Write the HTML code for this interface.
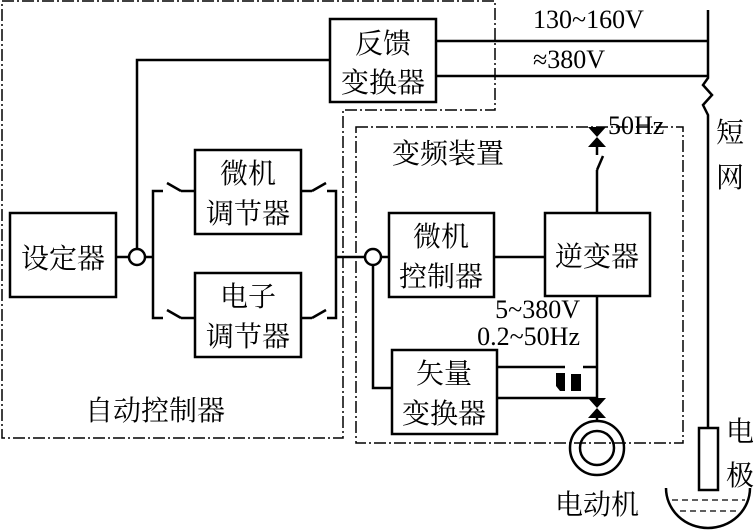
<!DOCTYPE html>
<html><head><meta charset="utf-8"><style>
html,body{margin:0;padding:0;background:#fff;}
svg{display:block}
text{font-family:"Liberation Serif","Noto Serif CJK SC","Noto Sans CJK SC",serif;fill:#000;}
</style></head><body>
<svg width="755" height="530" viewBox="0 0 755 530" xmlns="http://www.w3.org/2000/svg">
<g fill="none" stroke="#000" stroke-width="1.5" stroke-dasharray="12,3,2,3">
<polyline points="2,1 495,1 495,110 343,110 343,438 2,438 2,1"/>
<rect x="356" y="127" width="327" height="316"/>
</g>
<g fill="none" stroke="#000" stroke-width="2.5">
<rect x="330" y="19" width="106" height="83"/>
<rect x="10" y="213" width="106" height="84"/>
<rect x="195" y="150" width="106" height="84"/>
<rect x="195" y="273" width="106" height="84"/>
<rect x="389" y="213" width="105" height="84"/>
<rect x="545" y="213" width="105" height="83"/>
<rect x="392" y="350" width="105" height="84"/>
<rect x="699" y="428" width="19" height="62"/>
<polyline points="436,41 708,41"/>
<polyline points="436,76 708,76"/>
<polyline points="708,10 708,78 703,85 712,95 703,105 708,115 708,428"/>
<polyline points="330,60 137,60 137,248"/>
<circle cx="137" cy="257" r="8"/>
<line x1="116" y1="257" x2="129" y2="257"/>
<line x1="145" y1="257" x2="153" y2="257"/>
<polyline points="163,191 153,191 153,318 163,318"/>
<line x1="167" y1="183" x2="181" y2="191"/><line x1="181" y1="191" x2="195" y2="191"/>
<line x1="167" y1="310" x2="181" y2="318"/><line x1="181" y1="318" x2="195" y2="318"/>
<line x1="301" y1="191" x2="312" y2="191"/><line x1="312" y1="191" x2="326" y2="183"/>
<line x1="301" y1="318" x2="312" y2="318"/><line x1="312" y1="318" x2="326" y2="310"/>
<polyline points="327,191 336,191 336,318 327,318"/>
<line x1="336" y1="257" x2="365" y2="257"/>
<circle cx="373" cy="257" r="8"/>
<line x1="381" y1="257" x2="389" y2="257"/>
<polyline points="373,265 373,388 392,388"/>
<line x1="494" y1="257" x2="545" y2="257"/>
<line x1="597" y1="213" x2="597" y2="170"/>
<line x1="597" y1="170" x2="603" y2="156"/>
<line x1="597" y1="155" x2="597" y2="146"/>
<line x1="597" y1="296" x2="597" y2="400"/>
<line x1="497" y1="367" x2="565" y2="367"/>
<line x1="583" y1="367" x2="597" y2="367"/>
<line x1="497" y1="398" x2="597" y2="398"/>
<line x1="597" y1="418" x2="597" y2="421"/>
<circle cx="597" cy="448" r="27"/>
<circle cx="597" cy="448" r="17"/>
<path d="M666,488 A42,40 0 0 0 750,488"/>
</g>
<g fill="#000">
<polygon points="588,127 606,127 597,137"/><polygon points="588,147 606,147 597,137"/>
<polygon points="588,398 606,398 597,408"/><polygon points="588,418 606,418 597,408"/>
<path d="M556,373 L565,373 L565,391 L560,391 L556,386 Z"/>
<rect x="571" y="374" width="10" height="17"/>
</g>
<g stroke="#000" stroke-width="1.2" stroke-dasharray="6,4">
<line x1="672" y1="500" x2="745" y2="500"/>
<line x1="680" y1="511" x2="738" y2="511"/>
</g>
<g font-size="28" text-anchor="middle">
<text x="383" y="53">反馈</text><text x="383" y="92">变换器</text>
<text x="63" y="268">设定器</text>
<text x="248" y="183">微机</text><text x="248" y="223">调节器</text>
<text x="248" y="306">电子</text><text x="248" y="346">调节器</text>
<text x="441" y="246">微机</text><text x="441" y="286">控制器</text>
<text x="597" y="266">逆变器</text>
<text x="444" y="383">矢量</text><text x="444" y="423">变换器</text>
<text x="155" y="420">自动控制器</text>
<text x="448" y="163">变频装置</text>
<text x="597" y="514">电动机</text>
<text x="730" y="142">短</text><text x="730" y="187">网</text>
<text x="740" y="441">电</text><text x="740" y="485">极</text>
</g>
<g font-size="26">
<text x="533" y="28">130~160V</text>
<text x="533" y="68">≈380V</text>
<text x="608" y="134">50Hz</text>
<text x="580" y="318" text-anchor="end">5~380V</text>
<text x="580" y="345" text-anchor="end">0.2~50Hz</text>
</g>
</svg>
</body></html>
